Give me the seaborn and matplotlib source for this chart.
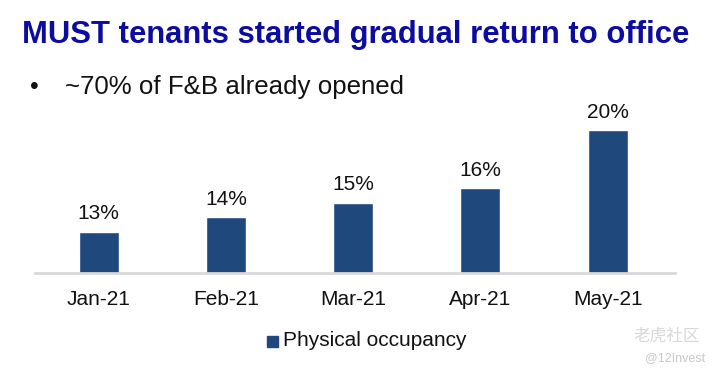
import matplotlib
matplotlib.use("Agg")
import matplotlib.pyplot as plt
import seaborn as sns
import pandas as pd
from matplotlib.patches import Rectangle

months = ["Jan-21", "Feb-21", "Mar-21", "Apr-21", "May-21"]
occupancy = [13, 14, 15, 16, 20]
value_labels = ["13%", "14%", "15%", "16%", "20%"]
series_name = "Physical occupancy"

sns.set_theme(style="white")
plt.rcParams['font.family'] = ['Liberation Sans', 'DejaVu Sans']

BAR = "#1F497D"
df = pd.DataFrame({"month": months, "occ": occupancy})

fig = plt.figure(figsize=(7.2, 3.77), dpi=100)
ax = fig.add_axes([35/720, 104/377, 640/720, 173/377])
sns.barplot(data=df, x="month", y="occ", color=BAR, width=0.315, saturation=1, ax=ax)
ax.set_ylim(10.15, 22.1)
ax.set_xlim(-0.5, 4.53)
ax.set_xlabel("")
ax.set_ylabel("")
ax.set_yticks([])
for s in ["top", "right", "left"]:
    ax.spines[s].set_visible(False)
ax.spines["bottom"].set_color("#D9D9D9")
ax.spines["bottom"].set_linewidth(2)
ax.tick_params(axis="x", length=0, pad=12, labelsize=15, labelcolor="#111111")
ax.bar_label(ax.containers[0], labels=value_labels, padding=6, fontsize=15, color="#111111")

fig.text(22/720, 1 - 35/377, "MUST tenants started gradual return to office",
         fontsize=22.3, fontweight="bold", color="#0C0CA0", va="center", ha="left")
fig.text(30/720, 1 - 87/377, "•", fontsize=18, color="#111111", va="center", ha="left")
fig.text(65/720, 1 - 87/377, "~70% of F&B already opened", fontsize=18.6,
         color="#111111", va="center", ha="left")

fig.patches.append(Rectangle((267/720, 1 - 347/377), 11/720, 11/377,
                             transform=fig.transFigure, color=BAR))
fig.text(283/720, 1 - 341/377, series_name, fontsize=15, color="#111111",
         va="center", ha="left")

fig.text(700/720, 1 - 336/377, "老虎社区", fontsize=12, color="#D8D8D8",
         va="center", ha="right", family=["Noto Sans CJK SC", "DejaVu Sans"])
fig.text(705/720, 1 - 358/377, "@12Invest", fontsize=9, color="#C8C8C8",
         va="center", ha="right")

fig.savefig("out.png", dpi=100)
